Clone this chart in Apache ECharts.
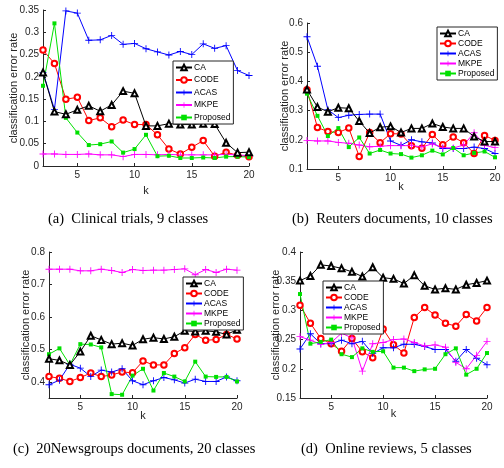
<!DOCTYPE html>
<html lang="en">
  <head>
    <meta charset="UTF-8" />
    <title>classification error rate</title>
    <style>
      html, body { margin: 0; padding: 0; background: #fff; }
    </style>
  </head>
  <body>
    <div id="main" style="width: 504px; height: 468px"></div>
    <script src="https://cdn.jsdelivr.net/npm/echarts@6/dist/echarts.min.js"></script>
    <script>
      // k values on the x axis
      var ks = [2, 3, 4, 5, 6, 7, 8, 9, 10, 11, 12, 13, 14, 15, 16, 17, 18, 19, 20];
      var methods = ["CA", "CODE", "ACAS", "MKPE", "Proposed"];

      // (a) Clinical trials
      var clinicalCA = [0.21, 0.122, 0.116, 0.126, 0.135, 0.123, 0.137, 0.168, 0.163, 0.09, 0.09, 0.095, 0.093, 0.093, 0.095, 0.094, 0.052, 0.03, 0.031];
      var clinicalCODE = [0.26, 0.23, 0.15, 0.154, 0.102, 0.108, 0.088, 0.103, 0.093, 0.093, 0.07, 0.038, 0.027, 0.042, 0.057, 0.022, 0.031, 0.024, 0.021];
      var clinicalACAS = [0.21, 0.127, 0.348, 0.343, 0.282, 0.283, 0.293, 0.273, 0.275, 0.263, 0.256, 0.249, 0.257, 0.25, 0.274, 0.264, 0.27, 0.214, 0.203];
      var clinicalMKPE = [0.027, 0.027, 0.026, 0.026, 0.027, 0.025, 0.025, 0.021, 0.026, 0.026, 0.025, 0.026, 0.025, 0.025, 0.025, 0.025, 0.026, 0.025, 0.023];
      var clinicalProposed = [0.18, 0.32, 0.108, 0.075, 0.047, 0.049, 0.055, 0.03, 0.038, 0.07, 0.022, 0.023, 0.018, 0.018, 0.019, 0.018, 0.021, 0.021, 0.02];

      // (b) Reuters documents
      var reutersCA = [0.372, 0.312, 0.296, 0.31, 0.308, 0.264, 0.223, 0.243, 0.246, 0.225, 0.239, 0.239, 0.256, 0.244, 0.239, 0.239, 0.211, 0.194, 0.194];
      var reutersCODE = [0.371, 0.242, 0.228, 0.225, 0.24, 0.143, 0.225, 0.19, 0.221, 0.22, 0.18, 0.171, 0.218, 0.183, 0.21, 0.19, 0.153, 0.215, 0.198];
      var reutersACAS = [0.553, 0.452, 0.303, 0.276, 0.284, 0.287, 0.288, 0.288, 0.196, 0.181, 0.2, 0.193, 0.189, 0.17, 0.17, 0.17, 0.175, 0.17, 0.153];
      var reutersMKPE = [0.198, 0.196, 0.196, 0.191, 0.188, 0.182, 0.176, 0.178, 0.18, 0.18, 0.18, 0.176, 0.186, 0.173, 0.172, 0.182, 0.224, 0.181, 0.173];
      var reutersProposed = [0.358, 0.282, 0.213, 0.24, 0.175, 0.208, 0.153, 0.165, 0.153, 0.151, 0.139, 0.147, 0.163, 0.15, 0.172, 0.147, 0.155, 0.16, 0.14];

      // (c) 20Newsgroups documents
      var newsCA = [0.471, 0.466, 0.452, 0.493, 0.542, 0.529, 0.516, 0.519, 0.512, 0.531, 0.536, 0.532, 0.539, 0.557, 0.555, 0.557, 0.554, 0.546, 0.56];
      var newsCODE = [0.416, 0.411, 0.401, 0.413, 0.427, 0.416, 0.421, 0.43, 0.428, 0.464, 0.452, 0.452, 0.487, 0.505, 0.546, 0.528, 0.53, 0.546, 0.532];
      var newsACAS = [0.391, 0.405, 0.454, 0.442, 0.416, 0.436, 0.43, 0.44, 0.403, 0.391, 0.403, 0.413, 0.406, 0.396, 0.408, 0.401, 0.401, 0.415, 0.403];
      var newsMKPE = [0.747, 0.747, 0.747, 0.742, 0.742, 0.747, 0.743, 0.737, 0.746, 0.743, 0.744, 0.744, 0.746, 0.748, 0.73, 0.746, 0.737, 0.747, 0.744];
      var newsProposed = [0.485, 0.503, 0.452, 0.516, 0.515, 0.506, 0.362, 0.36, 0.419, 0.44, 0.373, 0.427, 0.416, 0.401, 0.462, 0.416, 0.415, 0.415, 0.401];

      // (d) Online reviews
      var reviewsCA = [0.351, 0.359, 0.378, 0.376, 0.372, 0.366, 0.358, 0.374, 0.356, 0.354, 0.346, 0.36, 0.342, 0.336, 0.338, 0.336, 0.344, 0.347, 0.351];
      var reviewsCODE = [0.309, 0.278, 0.252, 0.243, 0.23, 0.252, 0.229, 0.219, 0.268, 0.241, 0.227, 0.288, 0.305, 0.292, 0.278, 0.273, 0.293, 0.282, 0.305];
      var reviewsACAS = [0.234, 0.26, 0.243, 0.243, 0.249, 0.243, 0.247, 0.226, 0.236, 0.236, 0.242, 0.242, 0.238, 0.233, 0.233, 0.213, 0.233, 0.218, 0.207];
      var reviewsMKPE = [0.255, 0.249, 0.242, 0.245, 0.261, 0.253, 0.196, 0.243, 0.245, 0.25, 0.251, 0.245, 0.239, 0.241, 0.237, 0.211, 0.2, 0.223, 0.247];
      var reviewsProposed = [0.328, 0.243, 0.246, 0.25, 0.225, 0.22, 0.235, 0.229, 0.23, 0.202, 0.202, 0.196, 0.199, 0.2, 0.225, 0.235, 0.19, 0.2, 0.227];

      var captions = [
        "(a)  Clinical trials, 9 classes",
        "(b)  Reuters documents, 10 classes",
        "(c)  20Newsgroups documents, 20 classes",
        "(d)  Online reviews, 5 classes",
      ];

      var plotData = [
        [clinicalCA, clinicalCODE, clinicalACAS, clinicalMKPE, clinicalProposed],
        [reutersCA, reutersCODE, reutersACAS, reutersMKPE, reutersProposed],
        [newsCA, newsCODE, newsACAS, newsMKPE, newsProposed],
        [reviewsCA, reviewsCODE, reviewsACAS, reviewsMKPE, reviewsProposed],
      ];

      var plus = "path://M-0.5,-4h1v3.5h3.5v1h-3.5v3.5h-1v-3.5h-3.5v-1h3.5z";
      var styles = [
        { color: "#000000", symbol: "emptyTriangle", size: 6 },
        { color: "#ff0000", symbol: "emptyCircle", size: 5.5 },
        { color: "#0000ff", symbol: plus, size: 7 },
        { color: "#ff00ff", symbol: plus, size: 7 },
        { color: "#00e000", symbol: "rect", size: 4 },
      ];

      // layout of the four panels
      var grids = [
        { left: 43, top: 10, width: 206, height: 156 },
        { left: 307, top: 23, width: 188, height: 146 },
        { left: 49, top: 252, width: 188, height: 146 },
        { left: 300, top: 252, width: 187, height: 146 },
      ];
      var yRanges = [
        { min: 0, max: 0.35, interval: 0.05 },
        { min: 0.1, max: 0.6, interval: 0.1 },
        { min: 0.35, max: 0.8, splitNumber: 5 },
        { min: 0.15, max: 0.4, interval: 0.05 },
      ];
      var yNameGaps = [24, 17, 18, 19];
      var xNameGaps = [19, 12, 12, 10];
      var legendPos = [
        { left: 173, top: 61, gap: 3.5 },
        { left: 437, top: 27, gap: 1 },
        { left: 183, top: 277, gap: 1 },
        { left: 323, top: 281, gap: 1 },
      ];
      var captionPos = [
        { left: 48, top: 212 },
        { left: 292, top: 212 },
        { left: 13, top: 442 },
        { left: 301, top: 442 },
      ];

      var axisColor = "#262626";
      var font = "Liberation Sans";

      var chart = echarts.init(document.getElementById("main"));

      var xAxes = [], yAxes = [], series = [], legends = [], titles = [];
      grids.forEach(function (g, i) {
        xAxes.push({
          type: "value",
          gridIndex: i,
          min: 2,
          max: 20,
          splitNumber: 4,
          name: "k",
          nameLocation: "middle",
          nameGap: xNameGaps[i],
          nameMoveOverlap: false,
          nameTextStyle: { color: axisColor, fontFamily: font, fontSize: 11 },
          axisLine: { lineStyle: { color: axisColor, width: 1 } },
          axisTick: { inside: true, length: 3, lineStyle: { color: axisColor } },
          axisLabel: { showMinLabel: false, color: axisColor, fontFamily: font, fontSize: 10, margin: 4 },
          splitLine: { show: false },
        });
        var yr = yRanges[i];
        yAxes.push({
          type: "value",
          gridIndex: i,
          min: yr.min,
          max: yr.max,
          interval: yr.interval,
          splitNumber: yr.splitNumber,
          name: "classification error rate",
          nameLocation: "middle",
          nameGap: yNameGaps[i],
          nameMoveOverlap: false,
          nameTextStyle: { color: axisColor, fontFamily: font, fontSize: 11 },
          axisLine: { show: true, lineStyle: { color: axisColor, width: 1 } },
          axisTick: { show: true, inside: true, length: 3, lineStyle: { color: axisColor } },
          axisLabel: { showMinLabel: i !== 2, color: axisColor, fontFamily: font, fontSize: 10, margin: 4 },
          splitLine: { show: false },
        });
        methods.forEach(function (m, j) {
          var st = styles[j];
          series.push({
            type: "line",
            name: m,
            xAxisIndex: i,
            yAxisIndex: i,
            data: ks.map(function (k, n) {
              return [k, plotData[i][j][n]];
            }),
            symbol: st.symbol,
            symbolSize: st.size,
            showAllSymbol: true,
            animation: false,
            itemStyle: { color: st.color, borderWidth: 1 },
            lineStyle: { color: st.color, width: 1 },
            z: j === 0 ? 3 : 2,
          });
        });
        var lp = legendPos[i];
        legends.push({
          data: methods,
          orient: "vertical",
          left: lp.left,
          top: lp.top,
          itemWidth: 16,
          itemHeight: 7,
          itemGap: lp.gap,
          padding: [2, 3, 2, 2],
          backgroundColor: "#ffffff",
          borderColor: axisColor,
          borderWidth: 1,
          borderRadius: 0,
          selectedMode: false,
          textStyle: { color: "#000", fontFamily: font, fontSize: 8.5, padding: [0, 0, 0, -3] },
        });
        titles.push({
          text: captions[i],
          left: captionPos[i].left,
          top: captionPos[i].top,
          padding: 0,
          textStyle: { fontFamily: "Liberation Serif", fontWeight: "normal", fontSize: 14.5, color: "#000" },
        });
      });

      chart.setOption({
        animation: false,
        title: titles,
        grid: grids,
        xAxis: xAxes,
        yAxis: yAxes,
        legend: legends,
        series: series,
      });
    </script>
  </body>
</html>
